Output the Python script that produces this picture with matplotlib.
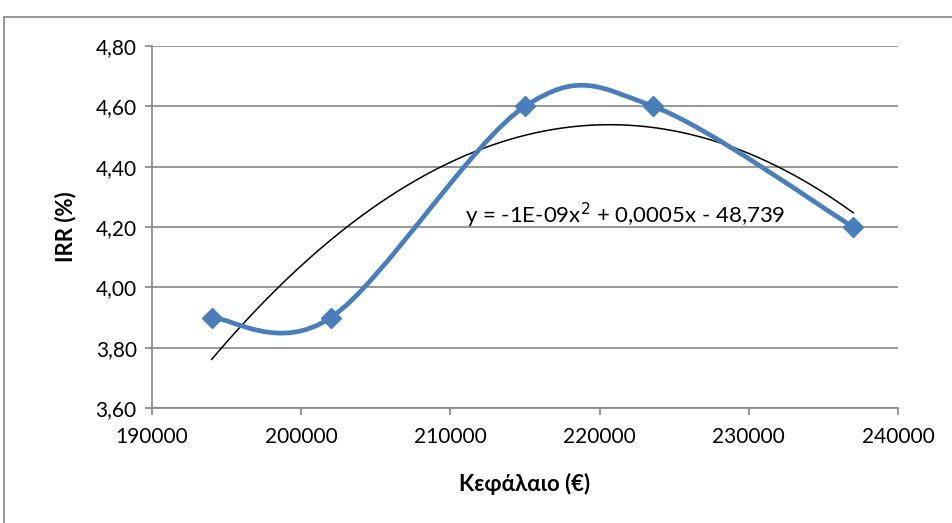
import numpy as np
import matplotlib
matplotlib.use("Agg")
import matplotlib.pyplot as plt
from matplotlib.patches import Rectangle
from matplotlib.path import Path
from matplotlib.patches import PathPatch
from matplotlib.ticker import FuncFormatter

plt.rcParams['font.family'] = ['Lato', 'DejaVu Sans']

# Capital (€) and IRR (%)
capital = [194000, 202000, 215000, 223600, 237000]
irr = [3.90, 3.90, 4.60, 4.60, 4.20]

x_label = "Κεφάλαιο (€)"
y_label = "IRR (%)"
equation = "y = -1E-09x$^{2}$ + 0,0005x - 48,739"

x_ticks = [190000, 200000, 210000, 220000, 230000, 240000]
y_ticks = [3.60, 3.80, 4.00, 4.20, 4.40, 4.60, 4.80]

line_color = "#4A7EBB"
grid_color = "#868686"

fig = plt.figure(figsize=(9.53, 5.23), dpi=100)
W, H = 953, 523
ax = fig.add_axes([152 / W, 1 - 408 / H, (898 - 152) / W, (408 - 46) / H])

# outer chart border
fig.patches.append(Rectangle((4 / W, -0.1), 1.2, 1 - 17 / H + 0.1,
                             transform=fig.transFigure, fill=False,
                             edgecolor="#868686", lw=1.2))


def smooth_path(xs, ys):
    """Cubic Bezier smoothing through the points (Catmull-Rom style)."""
    pts = np.column_stack([xs, ys]).astype(float)
    n = len(pts)
    verts = [pts[0]]
    codes = [Path.MOVETO]
    for i in range(n - 1):
        p0 = pts[max(i - 1, 0)]
        p1 = pts[i]
        p2 = pts[i + 1]
        p3 = pts[min(i + 2, n - 1)]
        c1 = p1 + (p2 - p0) / 6.0
        c2 = p2 - (p3 - p1) / 6.0
        verts += [c1, c2, p2]
        codes += [Path.CURVE4] * 3
    return Path(np.array(verts), codes)


# polynomial trend line (order 2)
coef = np.polyfit(capital, irr, 2)
tx = np.linspace(min(capital), max(capital), 300)
ax.plot(tx, np.polyval(coef, tx), color="black", lw=1.1, zorder=3)

# smoothed data series
ax.add_patch(PathPatch(smooth_path(capital, irr), fill=False,
                       edgecolor=line_color, lw=3.4, capstyle="round",
                       joinstyle="round", zorder=4))
ax.plot(capital, irr, linestyle="none", marker="D", markersize=10.5,
        color=line_color, zorder=5)

ax.set_xlim(190000, 240000)
ax.set_ylim(3.60, 4.80)
ax.set_xticks(x_ticks)
ax.set_yticks(y_ticks)
ax.xaxis.set_major_formatter(FuncFormatter(lambda v, p: f"{int(round(v))}"))
ax.yaxis.set_major_formatter(FuncFormatter(lambda v, p: f"{v:.2f}".replace(".", ",")))

ax.grid(axis="y", color=grid_color, lw=1.2)
ax.set_axisbelow(True)
for side in ("top", "right"):
    ax.spines[side].set_visible(False)
for side in ("left", "bottom"):
    ax.spines[side].set_color(grid_color)
    ax.spines[side].set_linewidth(1.2)
ax.tick_params(axis="both", direction="out", length=5, width=1.2,
               color=grid_color, labelsize=15, labelcolor="black")
ax.tick_params(axis="y", pad=6)
ax.tick_params(axis="x", pad=9)

ax.set_xlabel(x_label, fontsize=16, fontweight="bold", labelpad=18)
ax.set_ylabel(y_label, fontsize=16, fontweight="bold", labelpad=14)

ax.text(465, H - 215, equation, transform=None, fontsize=16, color="black",
        va="center", ha="left")

fig.savefig("out.png", dpi=100)
